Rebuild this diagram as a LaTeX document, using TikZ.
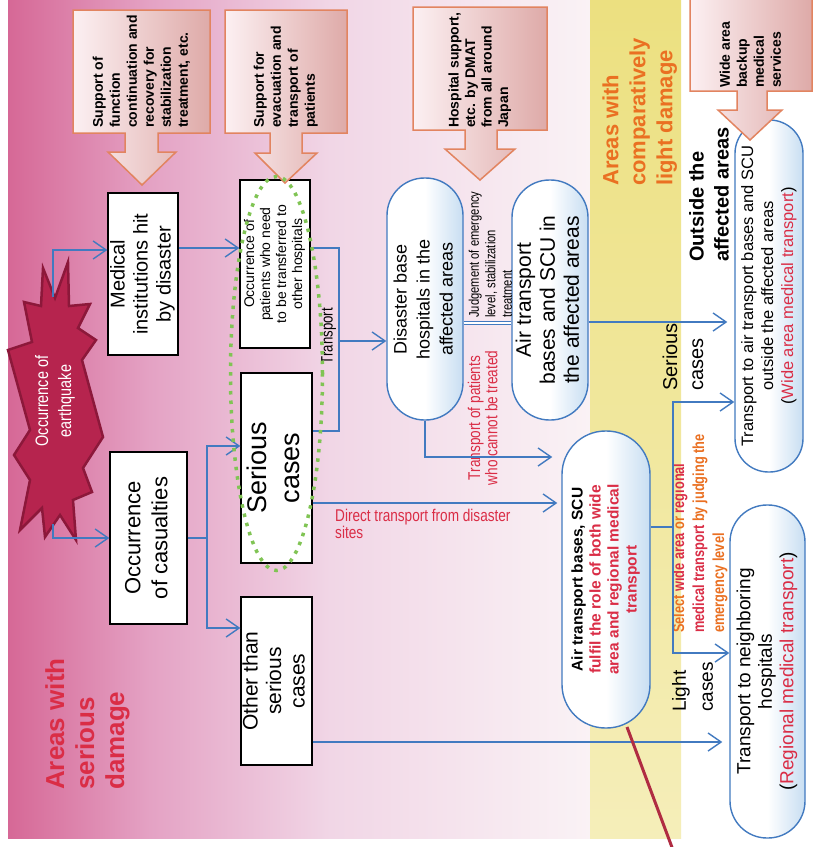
\documentclass[tikz,border=0pt]{standalone}
\usepackage{fontspec}
\setmainfont{Liberation Sans}
\newfontfamily\nar[FakeStretch=0.8]{Liberation Sans}
\usepackage{graphicx}
\usetikzlibrary{arrows.meta}
\definecolor{bl}{RGB}{66,122,192}
\definecolor{sb}{RGB}{200,222,242}
\definecolor{ob}{RGB}{226,132,96}
\definecolor{bxl}{RGB}{252,240,242}
\definecolor{bxr}{RGB}{222,170,168}
\definecolor{rd}{RGB}{218,45,70}
\definecolor{org}{RGB}{234,112,34}
\definecolor{pA}{RGB}{214,104,150}
\definecolor{pB}{RGB}{228,162,196}
\definecolor{pC}{RGB}{241,214,230}
\definecolor{pD}{RGB}{250,242,245}
\definecolor{yA}{RGB}{236,224,128}
\definecolor{yB}{RGB}{245,238,185}
\definecolor{gd}{RGB}{128,196,84}
\definecolor{stf}{RGB}{182,36,78}
\definecolor{sto}{RGB}{140,24,58}
\definecolor{rl}{RGB}{176,44,66}
\newcommand\vtxt[5]{\rotatebox{90}{#4\fontsize{#1}{#2}\selectfont\begin{tabular}{@{}#3@{}}#5\end{tabular}}}
\begin{document}
\begin{tikzpicture}[x=1pt,y=-1pt,
 conn/.style={draw=bl,line width=1.4pt},
 arr/.style={conn,-{Straight Barb[length=13pt,width=18pt,line width=1.4pt]}},
 bbox/.style={draw=black,line width=1.3pt,fill=white,inner sep=0pt},
 stad/.style={draw=bl,line width=1.4pt,left color=white,right color=sb,middle color=white,inner sep=0pt},
 supp/.style={draw=ob,line width=1.5pt,left color=bxl,right color=bxr},
 txt/.style={inner sep=0pt}]
\useasboundingbox (0,0) rectangle (816,847);
% background
\fill[white] (0,0) rectangle (816,847);
\shade[left color=pA,right color=pB] (8,0) rectangle (150,838);
\shade[left color=pB,right color=pC] (150,0) rectangle (330,838);
\shade[left color=pC,right color=pD] (330,0) rectangle (590,838);
\shade[top color=yA,bottom color=yB] (590,0) rectangle (681,838);
% star
\filldraw[fill=stf,draw=sto,line width=2.5pt,line join=miter]
 (43,268) -- (55,298) -- (68,262) -- (69,306) -- (90,304) -- (78,328) -- (96,340) -- (82,360)
 -- (103,437) -- (83,468) -- (92,492) -- (73,500) -- (76,540) -- (60,515) -- (45,537) -- (42,508)
 -- (20,530) -- (30,480) -- (14,455) -- (30,430) -- (8,350) -- (32,342) -- (24,302) -- (41,306) -- cycle;
\node[txt] (quake) at (55,401) {\vtxt{18}{23}{c}{\nar\color{white}}{Occurrence of\\earthquake}};
% black boxes
\node[bbox,minimum width=70pt,minimum height=162pt] (med) at (143,274) {\vtxt{20}{23}{c}{}{Medical\\institutions hit\\by disaster}};
\node[bbox,minimum width=77pt,minimum height=172pt] (occ) at (148.5,538) {\vtxt{22}{27}{c}{}{Occurrence\\of casualties}};
\node[bbox,minimum width=70pt,minimum height=168pt] (pat) at (275,264) {\vtxt{14}{16}{c}{}{Occurrence of\\patients who need\\to be transferred to\\other hospitals}};
\node[bbox,minimum width=71pt,minimum height=190pt] (ser) at (276.5,468) {\vtxt{27}{33}{c}{}{Serious\\cases}};
\node[bbox,minimum width=71pt,minimum height=168pt] (oth) at (276.5,681) {\vtxt{21}{23.5}{c}{}{Other than\\serious\\cases}};
% rounded nodes
\node[stad,rounded corners=37.5pt,minimum width=76pt,minimum height=242pt] (dbh) at (425,299) {\vtxt{18}{23}{c}{}{Disaster base\\hospitals in the\\affected areas}};
\node[stad,rounded corners=37.5pt,minimum width=76pt,minimum height=240pt] (ascu) at (550,300) {\vtxt{21}{24}{c}{}{Air transport\\bases and SCU in\\the affected areas}};
\node[stad,rounded corners=43.5pt,minimum width=88pt,minimum height=297pt] (scu) at (606,579.5) {\vtxt{15.5}{18}{c}{\bfseries}{Air transport bases, SCU\\\color{rd}fulfil the role of both wide\\\color{rd}area and regional medical\\\color{rd}transport}};
\node[stad,rounded corners=33.5pt,minimum width=68pt,minimum height=352pt] (outn) at (769,296) {\vtxt{16.5}{20}{c}{}{Transport to air transport bases and SCU\\outside the affected areas\\(\textcolor{rd}{Wide area medical transport})}};
\node[stad,rounded corners=37pt,minimum width=75pt,minimum height=333pt] (nbr) at (767.5,671.5) {\vtxt{19}{21.5}{c}{}{Transport to neighboring\\hospitals\\(\textcolor{rd}{Regional medical transport})}};
% labels
\node[txt,anchor=south] (sdmg) at (88,790) {\vtxt{26}{30}{l}{\bfseries\color{rd}}{Areas with\\serious\\damage}};
\node[txt,anchor=south] (ldmg) at (640,186) {\vtxt{22}{27}{l}{\bfseries\color{org}}{Areas with\\comparatively\\light damage}};
\node[txt,anchor=south] (outl) at (711,262) {\vtxt{20}{25}{l}{\bfseries}{Outside the\\affected areas}};
\node[txt,anchor=south] (serl) at (685,391) {\vtxt{20}{26}{l}{}{Serious\\cases}};
\node[txt,anchor=south] (ligl) at (694,712) {\vtxt{19}{27}{l}{}{Light\\cases}};
\node[txt] (trl) at (329,336) {\vtxt{16.5}{18}{l}{\nar}{Transport}};
\node[txt,anchor=south] (jdg) at (492,318) {\vtxt{14}{16.5}{l}{\nar}{Judgement of emergency\\level, stabilization\\treatment}};
\node[txt] (tpl) at (485,418) {\vtxt{17}{16.5}{c}{\nar\color{rd}}{Transport of patients\\who cannot be treated}};
\node[txt,anchor=north west,align=left,font=\nar\fontsize{17}{14.5}\selectfont,text=rd] (dtl) at (335,509) {Direct transport from disaster\\sites};
\node[txt,anchor=south] (sel) at (700,633) {\vtxt{16}{20}{l}{\nar\bfseries\color{org}}{Select \textcolor{rd}{wide area} or \textcolor{rd}{regional}\\\textcolor{rd}{medical transport} by judging the\\emergency level}};
% support boxes
\path[supp] (73,10) -- (210,10) -- (210,133) -- (158,133) -- (158,152) -- (176,152) -- (142,185) -- (108,152) -- (125,152) -- (125,133) -- (73,133) -- cycle;
\path[supp] (225,10) -- (347,10) -- (347,133) -- (302,133) -- (302,153) -- (317,153) -- (285,183) -- (255,153) -- (270,153) -- (270,133) -- (225,133) -- cycle;
\path[supp] (413,7) -- (547,7) -- (547,130) -- (497,130) -- (497,149) -- (515,149) -- (480,180) -- (445,149) -- (465,149) -- (465,130) -- (413,130) -- cycle;
\path[supp] (690,-5) -- (812,-5) -- (812,91) -- (767,91) -- (767,110) -- (782,110) -- (750,140) -- (718,110) -- (737,110) -- (737,91) -- (690,91) -- cycle;
\node[txt,anchor=south] (sA) at (142,128) {\vtxt{14}{17}{l}{\bfseries}{Support of\\function\\continuation and\\recovery for\\stabilization\\treatment, etc.}};
\node[txt,anchor=south] (sB) at (286,128) {\vtxt{14}{17}{l}{\bfseries}{Support for\\evacuation and\\transport of\\patients}};
\node[txt,anchor=south] (sC) at (480,128) {\vtxt{14}{16.5}{l}{\bfseries}{Hospital support,\\etc. by DMAT\\from all around\\Japan}};
\node[txt,anchor=south] (sD) at (752,88) {\vtxt{14}{17}{l}{\bfseries}{Wide area\\backup\\medical\\services}};
% connectors
\coordinate (qt) at (53,297);
\coordinate (qb) at (53,524);
\coordinate (ob) at (207,538);
\coordinate (tj) at (339,341);
\coordinate (tb) at (339,431);
\coordinate (sj) at (673,527);
\draw[arr] (qt) |- (med.west |- 0,250);
\draw[arr] (qb) |- (occ.west);
\draw[arr] (med.east |- 0,248) -- (pat.west |- 0,248);
\draw[conn] (occ.east) -- (ob);
\draw[arr] (ob) |- (ser.west |- 0,446);
\draw[arr] (ob) |- (oth.west |- 0,628);
\draw[conn] (pat.east |- 0,248) -| (tb) -- (ser.east |- tb);
\draw[arr] (tj) -- (dbh.west |- tj);
\draw[arr,shorten >=4pt] (ser.east |- 0,503) -- (scu.west |- 0,503);
\draw[arr,shorten >=9pt] (dbh.south) |- (scu.west |- 0,457);
\draw[draw=bl,line width=1.1pt,double=white,double distance=2.6pt] (dbh.east |- 0,323) -- (ascu.west |- 0,323);
\draw[arr,shorten >=7pt] (ascu.east |- 0,322) -- (outn.west |- 0,322);
\draw[conn] (scu.east |- sj) -- (sj);
\draw[arr] (sj) |- (outn.west |- 0,402);
\draw[arr] (sj) |- (nbr.west |- 0,653);
\draw[arr,shorten >=7pt] (oth.east |- 0,742) -- (nbr.west |- 0,742);
\draw[rl,line width=3pt] (627,727) -- (673,850);
% green dotted ellipse
\draw[gd,line width=3.5pt,dash pattern=on 3.5pt off 6pt] (276.5,373.5) ellipse [x radius=46pt,y radius=197pt];
\end{tikzpicture}
\end{document}
